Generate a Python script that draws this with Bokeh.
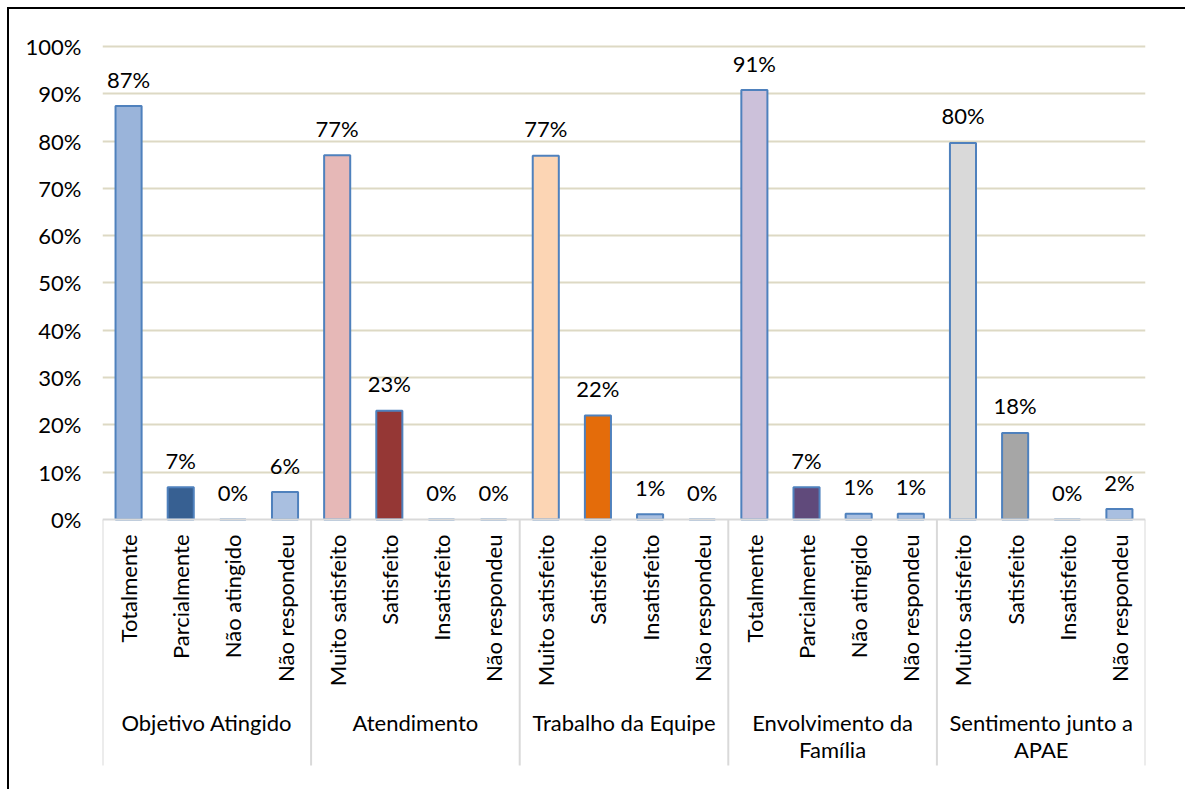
import math
from bokeh.plotting import figure
from bokeh.models import Range1d, FixedTicker, PrintfTickFormatter, Span
from bokeh.core.properties import value
from bokeh.embed import file_html
from bokeh.resources import INLINE

# ---- data ----
groups = ["Objetivo Atingido", "Atendimento", "Trabalho da Equipe",
          "Envolvimento da\nFamília", "Sentimento junto a\nAPAE"]
subcats = [
    ["Totalmente", "Parcialmente", "Não atingido", "Não respondeu"],
    ["Muito satisfeito", "Satisfeito", "Insatisfeito", "Não respondeu"],
    ["Muito satisfeito", "Satisfeito", "Insatisfeito", "Não respondeu"],
    ["Totalmente", "Parcialmente", "Não atingido", "Não respondeu"],
    ["Muito satisfeito", "Satisfeito", "Insatisfeito", "Não respondeu"],
]
values = [
    [87.4, 6.8, 0.0, 5.8],
    [77.0, 23.0, 0.0, 0.0],
    [76.9, 22.0, 1.1, 0.0],
    [90.8, 6.8, 1.2, 1.2],
    [79.6, 18.3, 0.0, 2.2],
]
colors = [
    ["#9ab4da", "#376092", "#a9bfe0", "#a9bfe0"],
    ["#e6b8b7", "#953735", "#a9bfe0", "#a9bfe0"],
    ["#fcd5b4", "#e46c0a", "#a9bfe0", "#a9bfe0"],
    ["#ccc1da", "#604a7b", "#a9bfe0", "#a9bfe0"],
    ["#d9d9d9", "#a6a6a6", "#a9bfe0", "#a9bfe0"],
]
y_ticks = list(range(0, 101, 10))

FONT = "Lato"
FS = "22px"

# flatten
xs, vals, labs, cols, subs = [], [], [], [], []
gcenters, bounds = [], [0]
i = 0
for g, sc, vv, cc in zip(groups, subcats, values, colors):
    start = i
    for s, v, c in zip(sc, vv, cc):
        xs.append(i + 0.5)
        vals.append(v)
        labs.append(f"{v:.0f}%")
        cols.append(c)
        subs.append(s)
        i += 1
    gcenters.append((start + i) / 2)
    bounds.append(i)

p = figure(
    frame_width=1043, frame_height=745,
    min_border_left=93, min_border_top=21, min_border_right=40, min_border_bottom=14,
    x_range=Range1d(0, i), y_range=Range1d(-54.12, 103.38),
    output_backend="svg", toolbar_location=None,
    background_fill_color="white", border_fill_color="white",
)
p.styles = {"margin-left": "7px", "margin-top": "7px",
            "border-left": "2px solid #000000", "border-top": "2px solid #000000"}
p.outline_line_color = None

p.xaxis.visible = False
p.xgrid.visible = False

p.yaxis.ticker = FixedTicker(ticks=y_ticks)
p.yaxis.formatter = PrintfTickFormatter(format="%d%%")
p.yaxis.axis_line_color = None
p.yaxis.major_tick_line_color = None
p.yaxis.minor_tick_line_color = None
p.yaxis.major_label_standoff = 15
p.yaxis.major_label_text_font = FONT
p.yaxis.major_label_text_font_size = FS
p.yaxis.major_label_text_color = "#000000"

p.ygrid.ticker = FixedTicker(ticks=y_ticks[1:])
p.ygrid.grid_line_color = "#ddd9c4"
p.ygrid.grid_line_width = 2

p.vbar(x=xs, top=vals, bottom=0, width=0.5, fill_color=cols,
       line_color="#4f81bd", line_width=2)

# category axis line and separators
p.add_layout(Span(location=0, dimension="width", line_color="#d9d9d9", line_width=2))
p.segment(x0=bounds, y0=[0] * len(bounds), x1=bounds, y1=[-52] * len(bounds),
          line_color="#d9d9d9", line_width=2)

# data labels
p.text(x=xs, y=vals, text=labs, text_align="center", text_baseline="middle",
       y_offset=-27, text_font=value(FONT), text_font_size=FS, text_color="#000000")

# sub-category labels
p.text(x=xs, y=[0] * len(xs), text=subs, angle=math.pi / 2, text_align="right",
       text_baseline="middle", y_offset=15, text_font=value(FONT),
       text_font_size=FS, text_color="#000000")

# group labels
p.text(x=gcenters, y=[0] * len(gcenters), text=groups, text_align="center",
       text_baseline="top", y_offset=189, text_line_height=1.0,
       text_font=value(FONT), text_font_size=FS, text_color="#000000")

open("out.html", "w").write(file_html(p, INLINE))
